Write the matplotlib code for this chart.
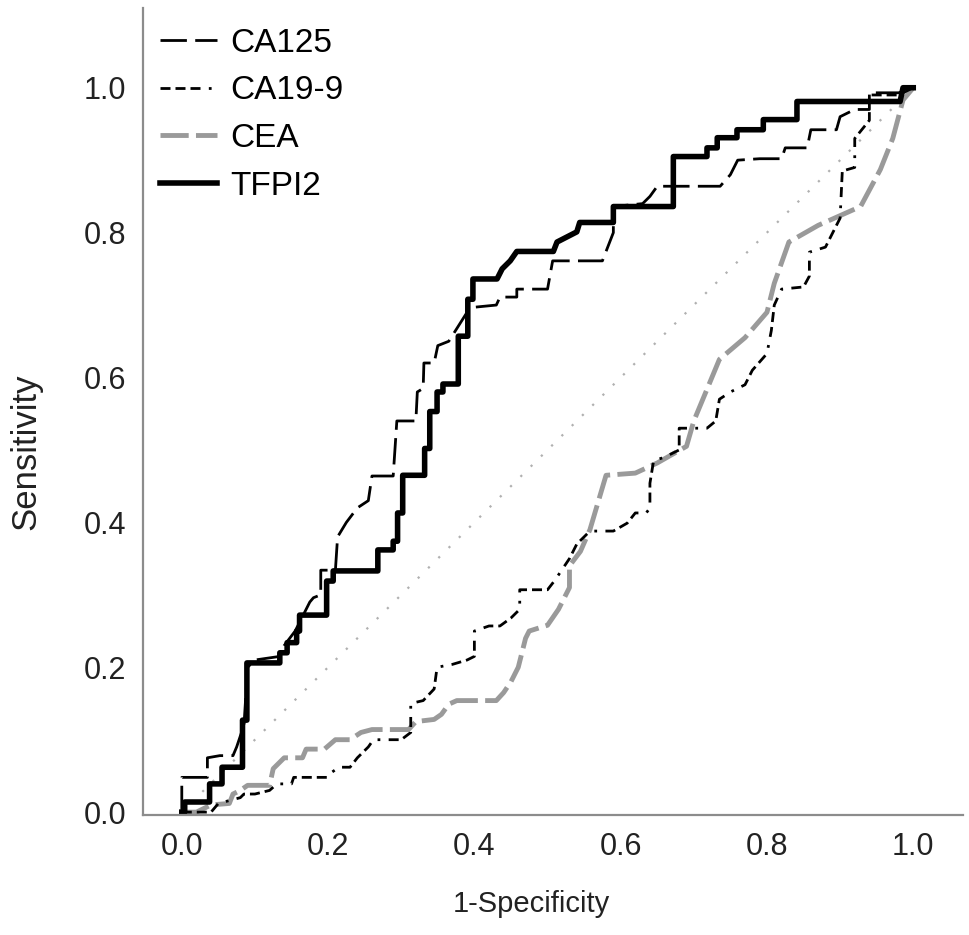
import matplotlib
matplotlib.use("Agg")
import matplotlib.pyplot as plt

plt.rcParams['font.family'] = ['Liberation Sans', 'DejaVu Sans']

# ROC points (1-specificity, sensitivity)
ca125_x = [0, 0, 0.02, 0.035, 0.035, 0.052, 0.07, 0.075, 0.085, 0.09, 0.1, 0.134, 0.14,
           0.155, 0.165, 0.175, 0.18, 0.19, 0.19, 0.21, 0.213, 0.225, 0.24, 0.255, 0.26,
           0.289, 0.294, 0.32, 0.322, 0.33, 0.331, 0.345, 0.35, 0.365, 0.39, 0.4, 0.43,
           0.435, 0.458, 0.458, 0.5, 0.507, 0.575, 0.59, 0.59, 0.63, 0.64, 0.65, 0.736,
           0.75, 0.76, 0.79, 0.82, 0.825, 0.855, 0.86, 0.895, 0.9, 0.92, 0.94, 0.94, 0.98, 1]
ca125_y = [0, 0.048, 0.048, 0.048, 0.075, 0.078, 0.078, 0.09, 0.12, 0.2, 0.21, 0.215, 0.23,
           0.25, 0.27, 0.29, 0.296, 0.3, 0.334, 0.334, 0.38, 0.4, 0.42, 0.43, 0.464,
           0.464, 0.54, 0.54, 0.58, 0.585, 0.62, 0.62, 0.644, 0.65, 0.69, 0.697, 0.70,
           0.711, 0.711, 0.722, 0.722, 0.761, 0.761, 0.8, 0.836, 0.84, 0.85, 0.864, 0.864,
           0.88, 0.9, 0.902, 0.902, 0.917, 0.917, 0.942, 0.942, 0.96, 0.97, 0.97, 0.993, 0.993, 1]

ca199_x = [0, 0.04, 0.05, 0.08, 0.085, 0.1, 0.12, 0.13, 0.15, 0.153, 0.2, 0.205, 0.215,
           0.23, 0.24, 0.255, 0.262, 0.3, 0.313, 0.313, 0.33, 0.345, 0.349, 0.37, 0.39,
           0.4, 0.4, 0.42, 0.435, 0.45, 0.462, 0.462, 0.5, 0.51, 0.53, 0.54, 0.558, 0.59,
           0.609, 0.62, 0.635, 0.64, 0.64, 0.645, 0.66, 0.68, 0.68, 0.718, 0.73, 0.735,
           0.75, 0.77, 0.78, 0.8, 0.806, 0.81, 0.82, 0.85, 0.858, 0.858, 0.88, 0.89, 0.9,
           0.903, 0.92, 0.92, 0.94, 0.94, 0.98, 1]
ca199_y = [0, 0, 0.012, 0.02, 0.025, 0.025, 0.03, 0.039, 0.039, 0.048, 0.048, 0.055, 0.062,
           0.062, 0.075, 0.09, 0.1, 0.1, 0.11, 0.15, 0.154, 0.17, 0.2, 0.204, 0.21,
           0.215, 0.25, 0.257, 0.257, 0.268, 0.28, 0.307, 0.307, 0.32, 0.35, 0.37, 0.388, 0.388,
           0.399, 0.413, 0.413, 0.42, 0.454, 0.485, 0.49, 0.5, 0.53, 0.53, 0.54, 0.57,
           0.58, 0.59, 0.61, 0.633, 0.665, 0.7, 0.722, 0.725, 0.74, 0.773, 0.78, 0.8, 0.82,
           0.885, 0.89, 0.93, 0.955, 0.99, 0.99, 1]

cea_x = [0, 0.02, 0.04, 0.065, 0.07, 0.08, 0.09, 0.12, 0.125, 0.14, 0.165, 0.17, 0.195,
         0.21, 0.23, 0.245, 0.26, 0.31, 0.32, 0.345, 0.355, 0.365, 0.376, 0.43, 0.44,
         0.45, 0.46, 0.47, 0.475, 0.5, 0.515, 0.53, 0.53, 0.545, 0.558, 0.58, 0.62, 0.65,
         0.69, 0.7, 0.735, 0.77, 0.8, 0.81, 0.83, 0.87, 0.928, 0.955, 0.972, 0.986, 1]
cea_y = [0, 0, 0.01, 0.012, 0.025, 0.03, 0.037, 0.037, 0.06, 0.075, 0.075, 0.087, 0.087,
         0.1, 0.1, 0.11, 0.114, 0.114, 0.125, 0.128, 0.135, 0.149, 0.154, 0.154, 0.165,
         0.18, 0.2, 0.24, 0.25, 0.258, 0.28, 0.31, 0.34, 0.36, 0.39, 0.465, 0.468, 0.482,
         0.505, 0.54, 0.625, 0.655, 0.69, 0.73, 0.787, 0.81, 0.836, 0.887, 0.93, 0.983, 1]

tfpi2_x = [0, 0.004, 0.004, 0.038, 0.038, 0.055, 0.055, 0.083, 0.083, 0.089, 0.089, 0.134,
           0.134, 0.144, 0.144, 0.157, 0.157, 0.161, 0.161, 0.198, 0.198, 0.207, 0.207,
           0.268, 0.268, 0.289, 0.289, 0.295, 0.295, 0.302, 0.302, 0.332, 0.332, 0.339,
           0.339, 0.349, 0.349, 0.357, 0.357, 0.378, 0.378, 0.391, 0.391, 0.398, 0.398,
           0.431, 0.438, 0.449, 0.458, 0.508, 0.513, 0.540, 0.544, 0.590, 0.590, 0.672,
           0.672, 0.718, 0.718, 0.732, 0.732, 0.759, 0.759, 0.795, 0.795, 0.841, 0.841,
           0.982, 0.986, 1]
tfpi2_y = [0, 0, 0.014, 0.014, 0.039, 0.039, 0.062, 0.062, 0.127, 0.127, 0.206, 0.206,
           0.220, 0.220, 0.234, 0.234, 0.250, 0.250, 0.272, 0.272, 0.319, 0.319, 0.333,
           0.333, 0.362, 0.362, 0.374, 0.374, 0.413, 0.413, 0.465, 0.465, 0.502, 0.502,
           0.553, 0.553, 0.580, 0.580, 0.591, 0.591, 0.657, 0.657, 0.708, 0.708, 0.736,
           0.736, 0.750, 0.761, 0.774, 0.774, 0.787, 0.801, 0.814, 0.814, 0.836, 0.836,
           0.905, 0.905, 0.917, 0.917, 0.931, 0.931, 0.942, 0.942, 0.956, 0.956, 0.981,
           0.981, 1.0, 1.0]

ref = [0, 1]
ticks = [0, 0.2, 0.4, 0.6, 0.8, 1.0]
tick_labels = ['0.0', '0.2', '0.4', '0.6', '0.8', '1.0']

fig = plt.figure(figsize=(9.69, 9.35), dpi=100)
ax = fig.add_axes([0.1476, 0.1283, 0.8462, 0.8631])

ax.plot(ref, ref, color='#b0b0b0', lw=1.6, linestyle=(0, (1, 5.5)))
ax.plot(cea_x, cea_y, color='#9a9a9a', lw=3.5, linestyle=(0, (5.8, 1.5)), label='CEA')
ax.plot(ca199_x, ca199_y, color='black', lw=2,
        linestyle=(0, (3.6, 1.8, 3.6, 1.8, 3.6, 3, 1, 3)), label='CA19-9')
ax.plot(ca125_x, ca125_y, color='black', lw=2, linestyle=(0, (9.5, 3)), label='CA125')
ax.plot(tfpi2_x, tfpi2_y, color='black', lw=4, label='TFPI2')

ax.set_xlim(-0.053, 1.068)
ax.set_ylim(-0.004, 1.11)
ax.set_xticks(ticks)
ax.set_yticks(ticks)
ax.set_xticklabels(tick_labels)
ax.set_yticklabels(tick_labels)
ax.tick_params(length=0, labelsize=22, pad=12, colors='#222222')

for s in ['top', 'right']:
    ax.spines[s].set_visible(False)
for s in ['left', 'bottom']:
    ax.spines[s].set_color('#8c8c8c')
    ax.spines[s].set_linewidth(1.6)

ax.set_xlabel('1-Specificity', fontsize=21, color='#222222')
ax.set_ylabel('Sensitivity', fontsize=25, color='#222222')
ax.xaxis.set_label_coords(0.474, -0.093)
ax.yaxis.set_label_coords(-0.123, 0.45)

h, l = ax.get_legend_handles_labels()
order = [2, 1, 0, 3]
ax.legend([h[i] for i in order], [l[i] for i in order], loc='upper left',
          bbox_to_anchor=(0.0045, 0.992), borderaxespad=0, frameon=False, fontsize=24,
          handlelength=1.7, handletextpad=0.4, labelspacing=0.5)

fig.savefig('out.png', dpi=100)
